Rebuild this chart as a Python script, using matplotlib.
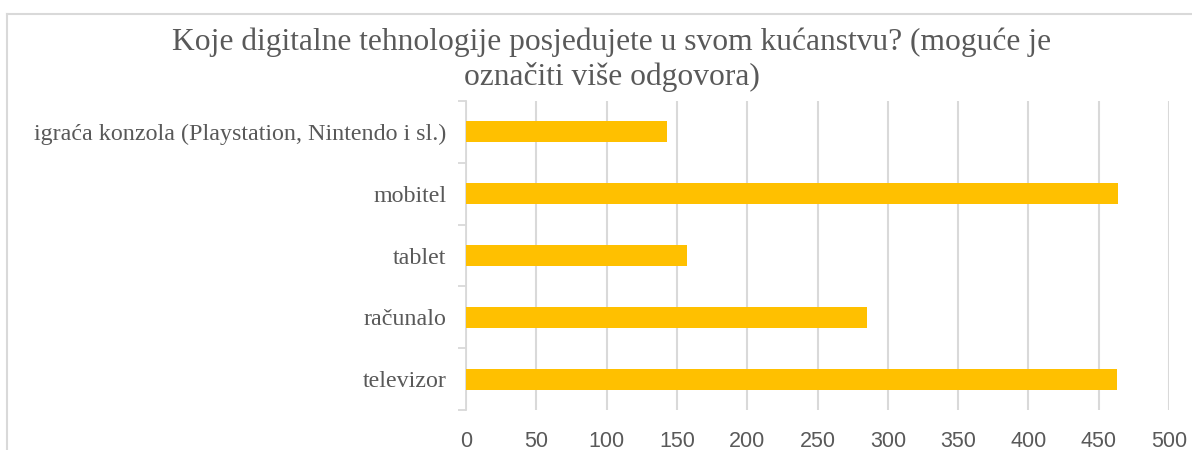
import numpy as np
import matplotlib.pyplot as plt
from matplotlib.lines import Line2D

# data
categories = ["televizor", "računalo", "tablet", "mobitel",
              "igraća konzola (Playstation, Nintendo i sl.)"]
counts = [463, 285, 157, 464, 143]
xticks = [0, 50, 100, 150, 200, 250, 300, 350, 400, 450, 500]

title = "Koje digitalne tehnologije posjedujete u svom kućanstvu? (moguće je\noznačiti više odgovora)"

grey = "#595959"
light = "#d9d9d9"

W, H = 1192, 450
fig = plt.figure(figsize=(W / 100, H / 100), dpi=100)
ax = fig.add_axes([466 / W, 1 - 410 / H, (1169 - 466) / W, (410 - 101) / H])

y = np.arange(len(categories))
ax.barh(y, counts, height=0.34, color="#FFC000", zorder=3)

ax.set_xlim(0, 500)
ax.set_ylim(-0.5, len(categories) - 0.5)
ax.set_xticks(xticks)
ax.set_xticklabels([str(t) for t in xticks], family="Liberation Sans",
                   fontsize=15.5, color=grey)
ax.set_yticks(y)
ax.set_yticklabels(categories, family="Liberation Serif", fontsize=17.3, color=grey)

# category boundary ticks on the value axis
ax.set_yticks(np.arange(-0.5, len(categories), 1), minor=True)
ax.tick_params(axis="y", which="major", length=0, pad=14)
ax.tick_params(axis="y", which="minor", length=6, color=light, width=1.3)
ax.tick_params(axis="x", length=0, pad=15)

ax.grid(axis="x", color=light, linewidth=1.5, zorder=0)
for s in ["top", "right", "bottom"]:
    ax.spines[s].set_visible(False)
ax.spines["left"].set_color(light)
ax.spines["left"].set_linewidth(1.3)

fig.text(612 / W, 1 - 60 / H, title, ha="center", va="center",
         family="Liberation Serif", fontsize=22.7, color=grey, linespacing=1.2)

# chart area frame (only left and top edges are in view)
fig.add_artist(Line2D([7 / W, 7 / W], [0, 1 - 14 / H], transform=fig.transFigure,
                      color=light, linewidth=1.5))
fig.add_artist(Line2D([7 / W, 1], [1 - 14 / H, 1 - 14 / H], transform=fig.transFigure,
                      color=light, linewidth=1.5))

fig.savefig("out.png", dpi=100)
